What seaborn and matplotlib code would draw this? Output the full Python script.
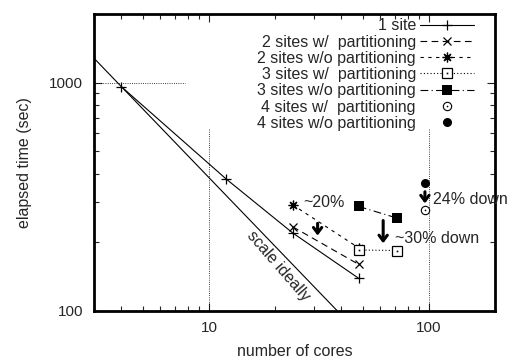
import numpy as np
import pandas as pd
import seaborn as sns
import matplotlib
matplotlib.use("Agg")
import matplotlib.pyplot as plt

sns.set_style("ticks")
plt.rcParams['font.family'] = ['Liberation Sans', 'DejaVu Sans']

# ---- data ----
ideal_x = [3, 40]
ideal_y = [1280, 96]
one_site_x = [4, 12, 24, 48]
one_site_y = [960, 378, 220, 139]
two_w_x = [24, 48]
two_w_y = [234, 160]
two_wo_x = [24, 48]
two_wo_y = [292, 189]
three_w_x = [48, 72]
three_w_y = [185, 184]
three_wo_x = [48, 72]
three_wo_y = [287, 255]
four_w_x = [96]
four_w_y = [276]
four_wo_x = [96]
four_wo_y = [365]

labels = ["1 site", "2 sites w/  partitioning", "2 sites w/o partitioning",
          "3 sites w/  partitioning", "3 sites w/o partitioning",
          "4 sites w/  partitioning", "4 sites w/o partitioning"]

FS = 11.5

fig = plt.figure(figsize=(5.08, 3.58), dpi=100)
ax = fig.add_axes([94/508, 1-311/358, (495-94)/508, (311-14)/358])
ax.set_xscale('log')
ax.set_yscale('log')
ax.set_xlim(3, 200)
ax.set_ylim(100, 2000)

# partial grid lines
ax.axhline(1000, xmin=0, xmax=(185-94)/401, color='k', ls=':', lw=0.6)
ax.axhline(1000, xmin=(490-94)/401, xmax=1, color='k', ls=':', lw=0.6)
for gx in (10, 100):
    ax.axvline(gx, ymin=0, ymax=(311-129)/297, color='k', ls=':', lw=0.6)


def draw(x, y, marker, size, ls, mfc='k', mew=0.9, lw=0.8):
    sns.lineplot(x=x, y=y, ax=ax, color='k', lw=lw, linestyle=ls,
                 marker=marker, markersize=size, markerfacecolor=mfc,
                 markeredgecolor='k', markeredgewidth=mew)
    return ax.lines[-1]


# ideal
sns.lineplot(x=ideal_x, y=ideal_y, color='k', lw=0.8, ax=ax, legend=False)

h = []
h.append(draw(one_site_x, one_site_y, '+', 7, '-'))
h.append(draw(two_w_x, two_w_y, 'x', 6, (0, (6, 4))))
h.append(draw(two_wo_x, two_wo_y, (8, 2, 0), 7, (0, (3, 4))))
a = draw(three_w_x, three_w_y, 's', 6.5, (0, (1, 2)), mfc='white')
b = draw(three_w_x, three_w_y, 's', 1.2, 'none', mew=0)
h.append((a, b))
h.append(draw(three_wo_x, three_wo_y, 's', 7, (0, (7, 3, 1, 3)), mew=0))
a = draw(four_w_x, four_w_y, 'o', 6, 'none', mfc='white', mew=0.8)
b = draw(four_w_x, four_w_y, 'o', 1.2, 'none', mew=0)
h.append((a, b))
h.append(draw(four_wo_x, four_wo_y, 'o', 6.5, 'none', mew=0))

leg = ax.legend(h, labels, loc='upper right', bbox_to_anchor=(0.972, 1.018),
                frameon=False, markerfirst=False, fontsize=FS,
                handlelength=3.4, handletextpad=0.25, labelspacing=0.08,
                borderaxespad=0.2)
try:
    for vp in leg._legend_box._children[1]._children:
        vp.align = 'right'
except Exception:
    pass

# annotations
ap = dict(arrowstyle='->,head_length=0.4,head_width=0.3', lw=2.2, color='k',
          shrinkA=0, shrinkB=0)
ax.annotate('', xy=(31.2, 214), xytext=(31.2, 242), arrowprops=ap)
ax.annotate('', xy=(62, 198), xytext=(62, 249), arrowprops=ap)
ax.annotate('', xy=(96, 296), xytext=(96, 333), arrowprops=ap)
ax.text(26.9, 298, '~20%', fontsize=FS, va='center', ha='left')
ax.text(70, 208, '~30% down', fontsize=FS, va='center', ha='left')
ax.text(104, 307, '24% down', fontsize=FS, va='center', ha='left')
ax.text(20.7, 158, 'scale ideally', fontsize=FS, va='center', ha='center',
        rotation=-49, rotation_mode='anchor')

ax.set_xticks([10, 100])
ax.set_xticklabels(['10', '100'])
ax.set_yticks([100, 1000])
ax.set_yticklabels(['100', '1000'])
ax.tick_params(which='both', direction='in', top=True, right=True, labelsize=11)
ax.tick_params(which='major', length=6, width=0.8)
ax.tick_params(which='minor', length=3.5, width=0.8)
ax.tick_params(axis='x', which='major', pad=7.5)
ax.tick_params(axis='y', which='major', pad=8)
for s in ax.spines.values():
    s.set_linewidth(2)
    s.set_color('k')

ax.set_xlabel('number of cores', fontsize=FS, labelpad=6)
ax.set_ylabel('elapsed time (sec)', fontsize=FS, labelpad=12)

fig.savefig('out.png', dpi=100)
